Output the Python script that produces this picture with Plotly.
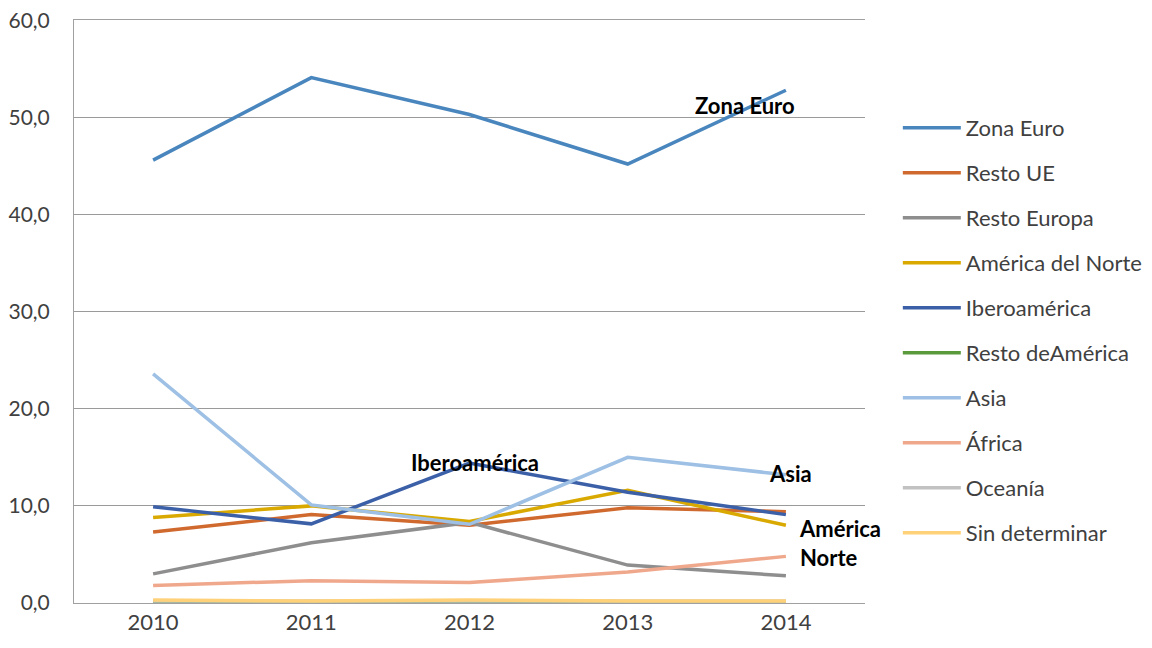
import plotly.graph_objects as go

# --- datos ---
years = ["2010", "2011", "2012", "2013", "2014"]

zona_euro = [45.6, 54.1, 50.3, 45.2, 52.8]
resto_ue = [7.3, 9.1, 8.0, 9.8, 9.4]
resto_europa = [3.0, 6.2, 8.3, 3.9, 2.8]
america_norte = [8.8, 10.0, 8.4, 11.6, 8.0]
iberoamerica = [9.9, 8.15, 14.4, 11.4, 9.1]
resto_america = [0.1, 0.1, 0.1, 0.1, 0.1]
asia = [23.6, 10.1, 8.1, 15.0, 13.2]
africa = [1.8, 2.3, 2.1, 3.2, 4.8]
oceania = [0.2, 0.2, 0.2, 0.2, 0.2]
sin_determinar = [0.3, 0.2, 0.3, 0.2, 0.2]

series = [
    ("Zona Euro", zona_euro, "#4A86BE"),
    ("Resto UE", resto_ue, "#D0692E"),
    ("Resto Europa", resto_europa, "#8E8E8E"),
    ("América del Norte", america_norte, "#D9A900"),
    ("Iberoamérica", iberoamerica, "#3C60A8"),
    ("Resto deAmérica", resto_america, "#5A9A3C"),
    ("Asia", asia, "#9DC0E4"),
    ("África", africa, "#F0A88C"),
    ("Oceanía", oceania, "#C2C2C2"),
    ("Sin determinar", sin_determinar, "#FFD27A"),
]

FONT = "Lato, 'Open Sans', sans-serif"

fig = go.Figure()
for name, vals, color in series:
    fig.add_trace(go.Scatter(x=years, y=vals, mode="lines", name=name,
                             legendgroup=name,
                             line=dict(color=color, width=3.5)))

# etiquetas sobre las líneas
labels = [
    ("Zona Euro", 3.41, 51.2),
    ("Iberoamérica", 1.62, 14.5),
    ("Asia", 3.88, 13.3),
    ("América<br>Norte", 4.07, 6.2),
]
for text, x, y in labels:
    fig.add_annotation(x=x, y=y, xref="x", yref="y", text=f"<b>{text}</b>",
                       showarrow=False, xanchor="left", align="left",
                       font=dict(family=FONT, size=22, color="#000000"))

# la página añade 8px de margen al body: se compensa aquí
fig.update_layout(
    width=1152, height=648,
    margin=dict(l=66, r=291, t=12, b=53),
    paper_bgcolor="white", plot_bgcolor="white",
    separators=",.",
    font=dict(family=FONT, size=22, color="#404040"),
    showlegend=True,
    legend=dict(x=1.0415, y=0.851, xanchor="left", yanchor="top",
                tracegroupgap=13.4, font=dict(size=22, color="#404040"),
                itemwidth=58),
)
fig.update_xaxes(type="category", range=[-0.5, 4.5], showgrid=False,
                 showline=True, linecolor="#A0A0A0", linewidth=1,
                 mirror=True,
                 ticks="", tickfont=dict(size=22), automargin=False)
fig.update_yaxes(range=[0, 60.03], dtick=10, tickformat=".1f",
                 showgrid=True, gridcolor="#9A9A9A", gridwidth=1,
                 showline=True, linecolor="#A0A0A0", linewidth=1,
                 zeroline=False, ticks="", ticklabelstandoff=19,
                 ticklabeloverflow="allow",
                 tickfont=dict(size=21), automargin=False)

fig.write_html("out.html")
